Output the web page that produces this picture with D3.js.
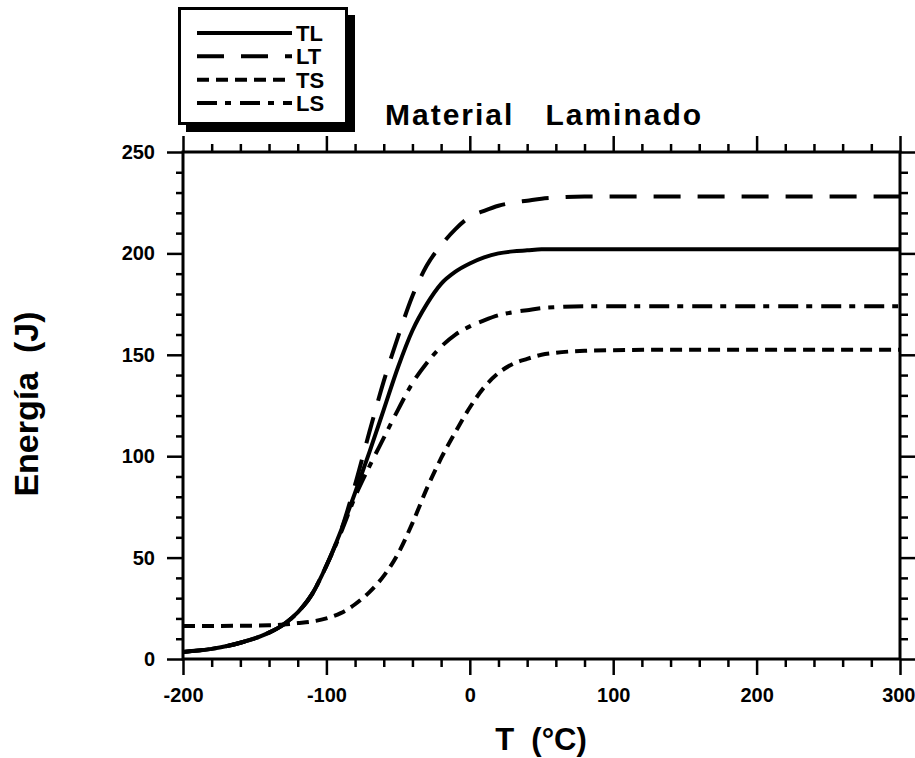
<!DOCTYPE html>
<html>
<head>
<meta charset="utf-8">
<script src="https://cdn.jsdelivr.net/npm/d3@7"></script>
<style>
  body { margin: 0; background: #fff; }
  text { font-family: "Liberation Sans", Arial, sans-serif; font-weight: bold; fill: #000; }
</style>
</head>
<body>
<div id="chart"></div>
<script>
// data
var temps = [-200, -180, -160, -140, -130, -120, -110, -100, -90, -80, -70, -60, -50, -40, -30, -20, -10, 0, 10, 20, 30, 40, 50, 60, 80, 100, 150, 200, 250, 300];
var tlValues = [3.5, 5, 8, 13, 17, 23, 32, 46, 63, 82, 102, 123, 144, 162, 175, 185, 191, 195, 198, 200, 201, 201.5, 202, 202, 202, 202, 202, 202, 202, 202];
var ltValues = [3.5, 5, 8, 13, 17, 23, 32, 46, 63, 86, 112, 137, 159, 179, 194, 204, 212, 218, 221, 223.5, 225, 226, 227, 227.5, 228, 228, 228, 228, 228, 228];
var tsValues = [16.3, 16.3, 16.4, 16.6, 17, 17.7, 18.5, 20, 22.6, 27, 33, 41, 52, 67, 84, 99, 112, 124, 134, 141, 145.5, 148, 150, 151, 152, 152.3, 152.5, 152.5, 152.5, 152.5];
var lsValues = [3.5, 5, 8, 13, 17, 23, 32, 46, 62, 80, 95, 109, 123, 136, 146, 154, 160, 164, 167, 169.5, 171, 172, 173, 173.5, 174, 174, 174, 174, 174, 174];

var seriesNames = ["TL", "LT", "TS", "LS"];
var dashes = {TL: null, LT: "27,17", TS: "12,7", LS: "20,8,6,9"};

var xMajor = [-200, -100, 0, 100, 200, 300];
var yMajor = [0, 50, 100, 150, 200, 250];

var svgWidth = 915, svgHeight = 758;
var plot = {left: 183, right: 900, top: 152, bottom: 659};

var svg = d3.select("#chart").append("svg")
  .attr("width", svgWidth)
  .attr("height", svgHeight);

var x = d3.scaleLinear().domain([-200, 300]).range([plot.left, plot.right]);
var y = d3.scaleLinear().domain([0, 250]).range([plot.bottom, plot.top]);

var xMinor = d3.range(-200, 301, 20).filter(d => d % 100 !== 0);
var yMinor = d3.range(0, 251, 10).filter(d => d % 50 !== 0);

// plain hyphen for negatives, like the original
var plainFormat = d => String(d);

function styleAxis(g) {
  g.select(".domain").remove();
  g.selectAll("line").attr("stroke", "#000").attr("stroke-width", 2.5);
  g.selectAll("text").style("font-size", "20px").style("font-family", "Liberation Sans, Arial, sans-serif").style("font-weight", "bold");
}

// bottom
var bottomAxis = svg.append("g").attr("transform", `translate(0,${plot.bottom})`)
  .call(d3.axisBottom(x).tickValues(xMajor).tickSize(16).tickPadding(13).tickSizeOuter(0).tickFormat(plainFormat))
  .call(styleAxis);
// keep the last label inside the page
bottomAxis.selectAll(".tick text").filter(d => d === 300)
  .attr("text-anchor", "end").attr("x", 15);
svg.append("g").attr("transform", `translate(0,${plot.bottom})`)
  .call(d3.axisBottom(x).tickValues(xMinor).tickSize(8).tickFormat("").tickSizeOuter(0))
  .call(styleAxis);
// top
svg.append("g").attr("transform", `translate(0,${plot.top})`)
  .call(d3.axisTop(x).tickValues(xMajor).tickSize(16).tickFormat("").tickSizeOuter(0))
  .call(styleAxis);
svg.append("g").attr("transform", `translate(0,${plot.top})`)
  .call(d3.axisTop(x).tickValues(xMinor).tickSize(8).tickFormat("").tickSizeOuter(0))
  .call(styleAxis);
// left
svg.append("g").attr("transform", `translate(${plot.left},0)`)
  .call(d3.axisLeft(y).tickValues(yMajor).tickSize(16).tickPadding(12).tickSizeOuter(0).tickFormat(plainFormat))
  .call(styleAxis);
svg.append("g").attr("transform", `translate(${plot.left},0)`)
  .call(d3.axisLeft(y).tickValues(yMinor).tickSize(7).tickFormat("").tickSizeOuter(0))
  .call(styleAxis);
// right
svg.append("g").attr("transform", `translate(${plot.right},0)`)
  .call(d3.axisRight(y).tickValues(yMajor).tickSize(16).tickFormat("").tickSizeOuter(0))
  .call(styleAxis);
svg.append("g").attr("transform", `translate(${plot.right},0)`)
  .call(d3.axisRight(y).tickValues(yMinor).tickSize(8).tickFormat("").tickSizeOuter(0))
  .call(styleAxis);

// frame
svg.append("rect")
  .attr("x", plot.left).attr("y", plot.top)
  .attr("width", plot.right - plot.left).attr("height", plot.bottom - plot.top)
  .attr("fill", "none").attr("stroke", "#000").attr("stroke-width", 3);

svg.append("clipPath").attr("id", "plotclip")
  .append("rect")
  .attr("x", plot.left).attr("y", plot.top)
  .attr("width", plot.right - plot.left).attr("height", plot.bottom - plot.top);

var seriesData = {
  TL: temps.map((t, i) => [t, tlValues[i]]),
  LT: temps.map((t, i) => [t, ltValues[i]]),
  TS: temps.map((t, i) => [t, tsValues[i]]),
  LS: temps.map((t, i) => [t, lsValues[i]])
};

var line = d3.line()
  .x(d => x(d[0]))
  .y(d => y(d[1]))
  .curve(d3.curveMonotoneX);

var curves = svg.append("g").attr("clip-path", "url(#plotclip)");
seriesNames.forEach(function(name) {
  curves.append("path")
    .datum(seriesData[name])
    .attr("d", line)
    .attr("fill", "none")
    .attr("stroke", "#000")
    .attr("stroke-width", 4)
    .attr("stroke-dasharray", dashes[name]);
});

// title
svg.append("text")
  .attr("x", 385).attr("y", 125)
  .style("font-size", "30px")
  .style("letter-spacing", "2px")
  .style("white-space", "pre")
  .text("Material   Laminado");

// axis labels
svg.append("text")
  .attr("transform", "translate(38,404) rotate(-90)")
  .attr("text-anchor", "middle")
  .style("font-size", "34px")
  .style("white-space", "pre")
  .text("Energía  (J)");

svg.append("text")
  .attr("x", 541).attr("y", 750)
  .attr("text-anchor", "middle")
  .style("font-size", "31px")
  .style("white-space", "pre")
  .text("T  (°C)");

// legend
var legend = svg.append("g");
legend.append("rect")
  .attr("x", 186).attr("y", 15).attr("width", 169).attr("height", 117)
  .attr("fill", "#000");
legend.append("rect")
  .attr("x", 179.5).attr("y", 8.5).attr("width", 167).attr("height", 115)
  .attr("fill", "#fff").attr("stroke", "#000").attr("stroke-width", 3);

var legendY = d3.scalePoint().domain(seriesNames).range([33, 103]);
seriesNames.forEach(function(name) {
  legend.append("line")
    .attr("x1", 197).attr("x2", 292)
    .attr("y1", legendY(name)).attr("y2", legendY(name))
    .attr("stroke", "#000").attr("stroke-width", 4)
    .attr("stroke-dasharray", dashes[name]);
  legend.append("text")
    .attr("x", 296).attr("y", legendY(name) + 8)
    .style("font-size", "22px")
    .text(name);
});
</script>
</body>
</html>
